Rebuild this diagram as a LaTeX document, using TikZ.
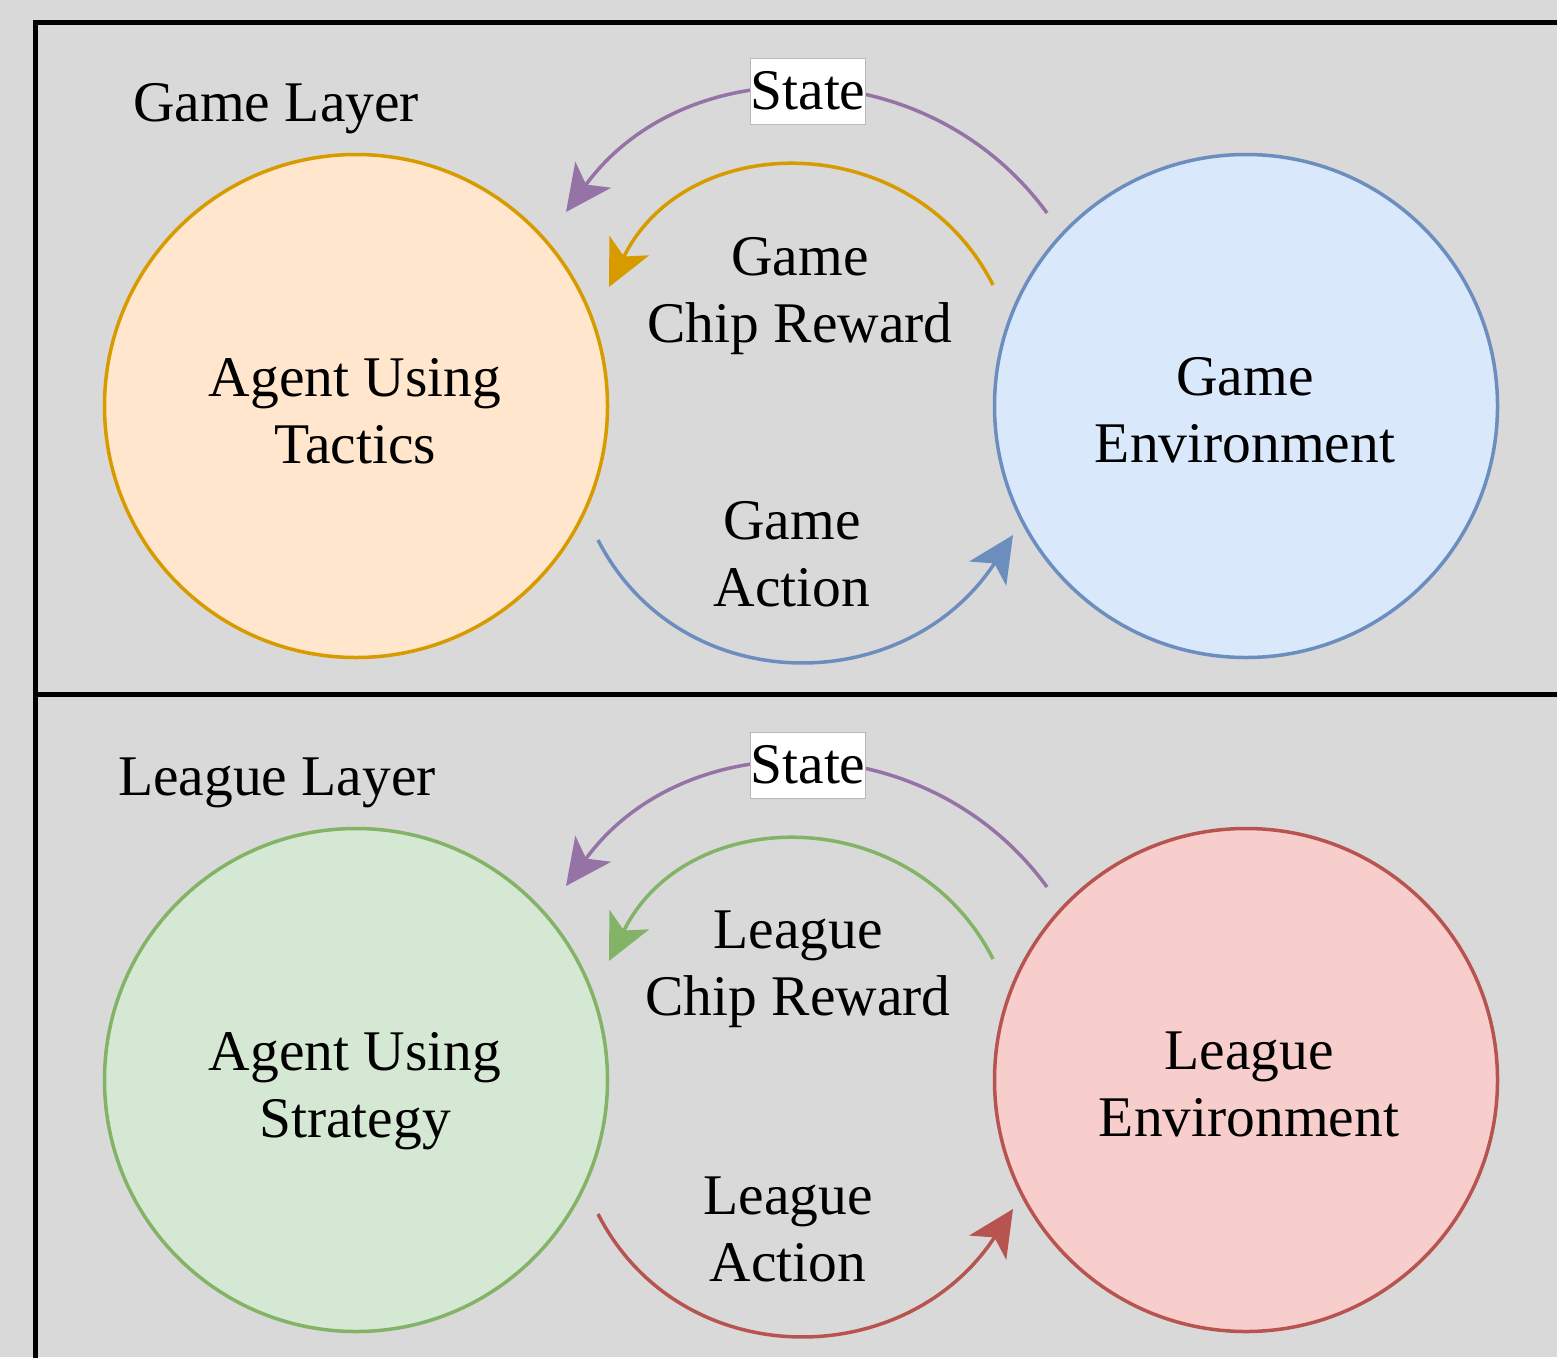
\documentclass[tikz,border=0pt]{standalone}
\usepackage{fontspec}
\setmainfont{Liberation Serif}
\usetikzlibrary{arrows.meta}
\definecolor{bgc}{HTML}{D9D9D9}
\definecolor{orf}{HTML}{FFE6CC}\definecolor{ord}{HTML}{D79B00}
\definecolor{blf}{HTML}{DAE8FC}\definecolor{bld}{HTML}{6C8EBF}
\definecolor{grf}{HTML}{D5E8D4}\definecolor{grd}{HTML}{82B366}
\definecolor{rdf}{HTML}{F8CECC}\definecolor{rdd}{HTML}{B85450}
\definecolor{pud}{HTML}{9673A6}
\begin{document}
\begin{tikzpicture}[x=1pt,y=-1pt,
  font=\fontsize{57.5}{67}\selectfont,
  circ/.style={circle, minimum size=503pt, inner sep=0pt, line width=3.5pt},
  lbl/.style={align=center, inner sep=0pt},
  flow/.style={line width=3.5pt, -{Stealth[length=46pt,width=44pt,inset=12pt]}},
  statebox/.style={fill=white, draw=gray!55, line width=0.8pt, minimum width=114pt, minimum height=66pt, inner sep=0pt},
  frame/.style={line width=5pt, black}]
\useasboundingbox (0,0) rectangle (1557,1357);
\fill[bgc] (0,0) rectangle (1557,1357);
% frames
\draw[frame] (1570,22) -- (35,22) -- (35,1370);
\draw[frame] (35,694) -- (1570,694);

% ---------- Game layer ----------
\node[anchor=base west, inner sep=0pt] (gtitle) at (133,121) {Game Layer};
\node[circ, fill=orf, draw=ord] (agent1) at (356,406) {};
\node[circ, fill=blf, draw=bld] (env1) at (1246,406) {};
\node[lbl] (agent1t) at (355,417) {\strut Agent Using\\\strut Tactics};
\node[lbl] (env1t) at (1245,416) {\strut Game\\\strut Environment};
\node[lbl] (rew1t) at (800,296) {\strut Game\\\strut Chip Reward};
\node[lbl] (act1t) at (792,560) {\strut Game\\\strut Action};

\coordinate (s1a) at (1047,213);
\coordinate (s1b) at (566,212);
\coordinate (r1a) at (993,285);
\coordinate (r1b) at (609,287);
\coordinate (a1a) at (598,540);
\coordinate (a1b) at (1013,535);
\draw[flow, pud] (s1a) .. controls (928,50) and (685,49) .. (s1b);
\draw[flow, ord] (r1a) .. controls (913,127) and (687,128) .. (r1b);
\draw[flow, bld] (a1a) .. controls (680,700) and (905,700) .. (a1b);
\node[statebox] (state1) at (808,91) {State};

% ---------- League layer ----------
\node[anchor=base west, inner sep=0pt] (ltitle) at (118,795) {League Layer};
\node[circ, fill=grf, draw=grd] (agent2) at (356,1080) {};
\node[circ, fill=rdf, draw=rdd] (env2) at (1246,1080) {};
\node[lbl] (agent2t) at (355,1091) {\strut Agent Using\\\strut Strategy};
\node[lbl] (env2t) at (1249,1090) {\strut League\\\strut Environment};
\node[lbl] (rew2t) at (798,969) {\strut League\\\strut Chip Reward};
\node[lbl] (act2t) at (788,1235) {\strut League\\\strut Action};

\coordinate (s2a) at (1047,887);
\coordinate (s2b) at (566,886);
\coordinate (r2a) at (993,959);
\coordinate (r2b) at (609,961);
\coordinate (a2a) at (598,1214);
\coordinate (a2b) at (1013,1209);
\draw[flow, pud] (s2a) .. controls (928,724) and (685,723) .. (s2b);
\draw[flow, grd] (r2a) .. controls (913,801) and (687,802) .. (r2b);
\draw[flow, rdd] (a2a) .. controls (680,1374) and (905,1374) .. (a2b);
\node[statebox] (state2) at (808,765) {State};
\end{tikzpicture}
\end{document}
